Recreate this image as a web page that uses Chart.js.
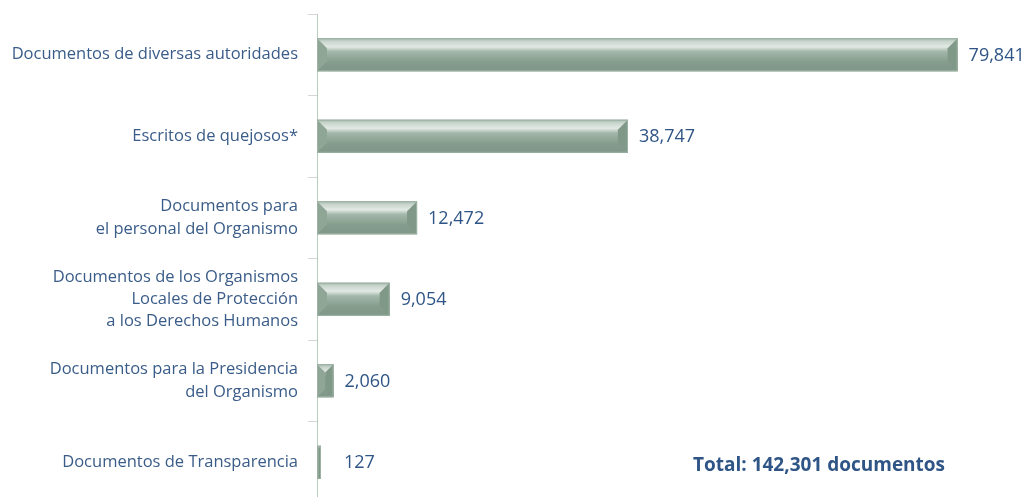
<!DOCTYPE html>
<html>
<head>
<meta charset="utf-8">
<script src="https://cdn.jsdelivr.net/npm/chart.js@4"></script>
<style>
  html, body { margin: 0; padding: 0; background: #fff; overflow: hidden; }
  #wrap { width: 1025px; height: 503px; position: relative; }
</style>
</head>
<body>
<div id="wrap"><canvas id="docsChart" width="1025" height="503"></canvas></div>
<script>
// --------------------------------
// Data
// --------------------------------
const categories = [
  "Documentos de diversas autoridades",
  "Escritos de quejosos*",
  ["Documentos para", "el personal del Organismo"],
  ["Documentos de los Organismos", "Locales de Protección", "a los Derechos Humanos"],
  ["Documentos para la Presidencia", "del Organismo"],
  "Documentos de Transparencia",
];
const documentCounts = [79841, 38747, 12472, 9054, 2060, 127];
const totalLabel = "Total: 142,301 documentos";

const textBlue = "#3a5c88";
const valueBlue = "#2f5586";

// --------------------------------
// Helpers
// --------------------------------
const formatNumber = (val) => Number(val).toLocaleString("en-US");

// bevelled bars drawn over the plain ones
const bevelBars = {
  id: "bevelBars",
  afterDatasetsDraw(chart) {
    const ctx = chart.ctx;
    const meta = chart.getDatasetMeta(0);
    meta.data.forEach((bar) => {
      const l = Math.min(bar.base, bar.x);
      const r = Math.max(bar.base, bar.x);
      const t = bar.y - bar.height / 2;
      const bt = bar.y + bar.height / 2;
      const w = r - l;
      const h = bt - t;
      const b = Math.min(10, w / 2, h / 3);

      ctx.save();
      const grad = ctx.createLinearGradient(0, t, 0, bt);
      grad.addColorStop(0, "#a7bbae");
      grad.addColorStop(0.1, "#c9d6cd");
      grad.addColorStop(0.26, "#e2e9e4");
      grad.addColorStop(0.4, "#a3b7aa");
      grad.addColorStop(0.65, "#8ba293");
      grad.addColorStop(1, "#839b8b");
      ctx.fillStyle = grad;
      ctx.fillRect(l, t, w, h);

      // left facet
      ctx.fillStyle = "#8fa697";
      ctx.beginPath();
      ctx.moveTo(l, t);
      ctx.lineTo(l + b, t + b);
      ctx.lineTo(l + b, bt - b);
      ctx.lineTo(l, bt);
      ctx.closePath();
      ctx.fill();

      // right facet
      ctx.fillStyle = "#809888";
      ctx.beginPath();
      ctx.moveTo(r, t);
      ctx.lineTo(r - b, t + b);
      ctx.lineTo(r - b, bt - b);
      ctx.lineTo(r, bt);
      ctx.closePath();
      ctx.fill();

      // bottom facet
      ctx.fillStyle = "rgba(110,136,120,0.15)";
      ctx.beginPath();
      ctx.moveTo(l, bt);
      ctx.lineTo(l + b, bt - b);
      ctx.lineTo(r - b, bt - b);
      ctx.lineTo(r, bt);
      ctx.closePath();
      ctx.fill();

      ctx.strokeStyle = "#9db2a4";
      ctx.lineWidth = 1;
      if (w > 2) ctx.strokeRect(l + 0.5, t + 0.5, w - 1, h - 1);
      ctx.restore();
    });
  },
};

// value labels + total
const valueLabels = {
  id: "valueLabels",
  afterDraw(chart) {
    const ctx = chart.ctx;
    const area = chart.chartArea;
    const meta = chart.getDatasetMeta(0);
    ctx.save();
    ctx.font = '18px "Open Sans", sans-serif';
    ctx.fillStyle = valueBlue;
    ctx.textBaseline = "middle";
    ctx.textAlign = "left";
    meta.data.forEach((bar, i) => {
      const x = Math.max(bar.x + 11, area.left + 27);
      ctx.fillText(formatNumber(documentCounts[i]), x, bar.y + 1);
    });
    ctx.font = 'bold 19px "Open Sans", sans-serif';
    ctx.fillText(totalLabel, 693, 466);
    ctx.restore();
  },
};

// --------------------------------
// Chart
// --------------------------------
new Chart(document.getElementById("docsChart").getContext("2d"), {
  type: "bar",
  data: {
    labels: categories,
    datasets: [
      {
        data: documentCounts,
        backgroundColor: "#86a090",
        borderWidth: 0,
        barPercentage: 0.405,
        categoryPercentage: 1,
        minBarLength: 4,
      },
    ],
  },
  options: {
    indexAxis: "y",
    responsive: false,
    animation: false,
    layout: { padding: { top: 14, right: 26, left: 0, bottom: 0 } },
    plugins: { legend: { display: false }, tooltip: { enabled: false } },
    scales: {
      x: { display: false, min: 0, max: 85000 },
      y: {
        afterFit: (s) => {
          s.width = 317;
          s.paddingTop = 0;
          s.paddingBottom = 0;
        },
        grid: {
          drawOnChartArea: false,
          tickLength: 9,
          color: "#d6d6d6",
          offset: true,
        },
        border: { color: "#b9cdbf" },
        ticks: {
          color: textBlue,
          padding: 10,
          font: { family: '"Open Sans", sans-serif', size: 16.5, lineHeight: 1.35 },
        },
      },
    },
  },
  plugins: [bevelBars, valueLabels],
});
</script>
</body>
</html>
